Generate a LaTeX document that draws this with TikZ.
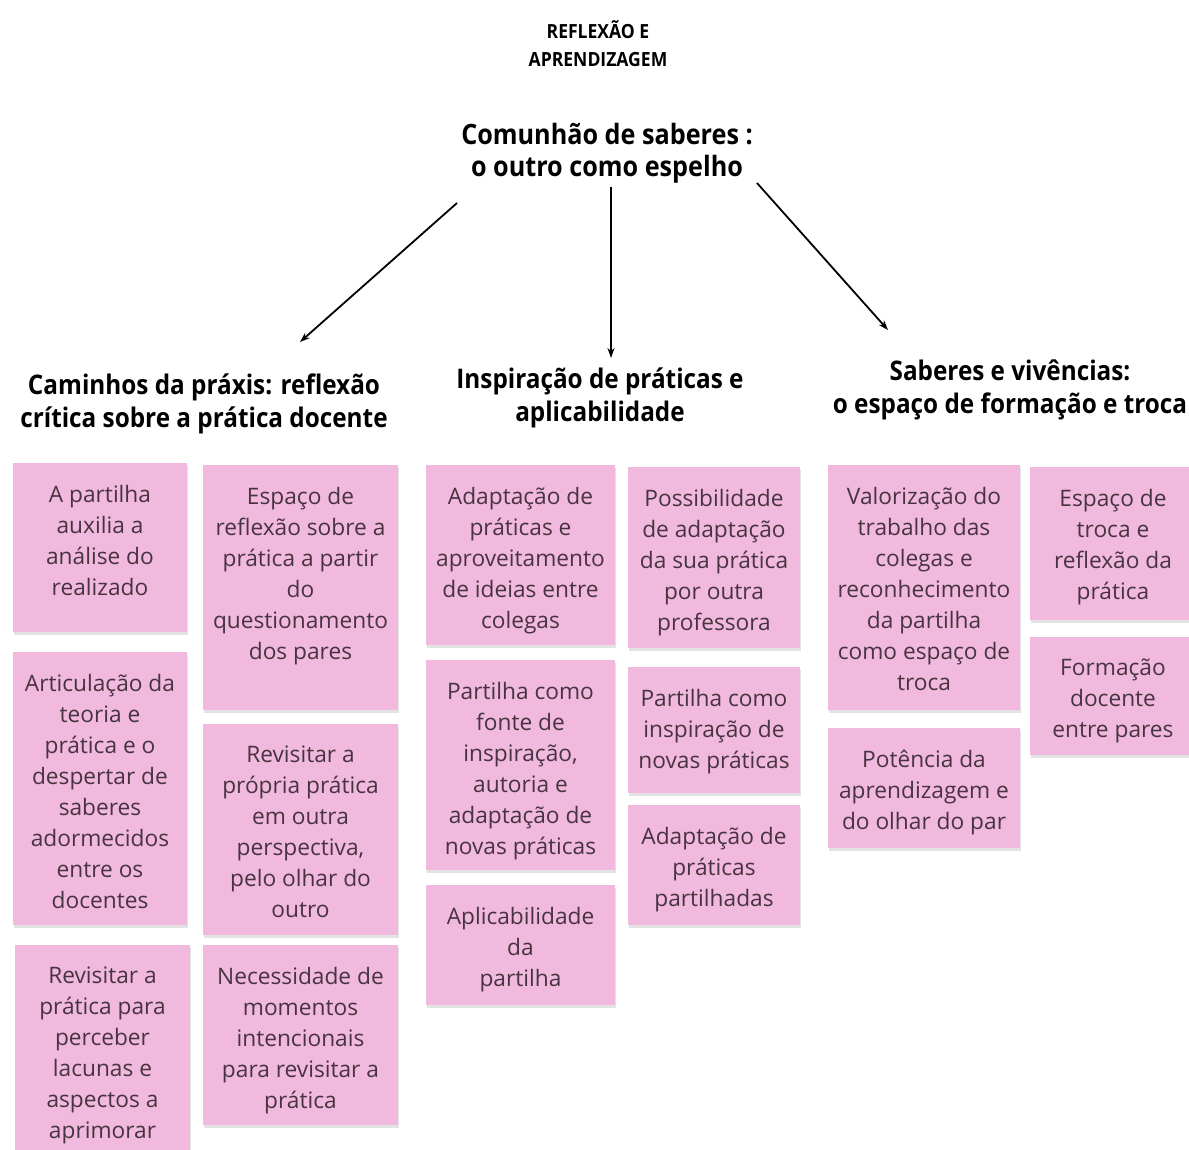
\documentclass[tikz,border=0pt]{standalone}
\usepackage{fontspec}
\setmainfont{Open Sans}
\newfontfamily\headfont[FakeStretch=0.9]{Open Sans}
\usetikzlibrary{arrows.meta,fit,shadows}

\definecolor{notepink}{RGB}{241,185,221}
\definecolor{notetextc}{RGB}{72,52,64}

\tikzset{
  note/.style={fill=notepink, draw=none, inner sep=0pt,
    drop shadow={shadow xshift=1pt, shadow yshift=-3pt, opacity=0.18, fill=black!60}},
  notetext/.style={text=notetextc, align=center, inner sep=0pt,
    font=\fontsize{22.7}{31}\selectfont},
  headtext/.style={align=center, inner sep=0pt,
    font=\headfont\bfseries\fontsize{27}{33}\selectfont},
  centertext/.style={align=center, inner sep=0pt,
    font=\headfont\bfseries\fontsize{28}{32}\selectfont},
  titletext/.style={align=center, inner sep=0pt,
    font=\headfont\bfseries\fontsize{19.5}{28}\selectfont},
  link/.style={line width=1.8pt, -{Stealth[length=10pt,width=7pt]}},
}

% one sticky note: name, top-left corner, bottom-right corner, text
\newcommand\stickynote[6]{%
  \node[note, fit={(#2,#3) (#4,#5)}] (#1) {};
  \node[notetext, anchor=north] (#1-txt) at ([yshift=-22pt]#1.north) {#6};
}

\begin{document}
\begin{tikzpicture}[x=1pt,y=-1pt]
  \fill[white] (0,0) rectangle (1189,1149);
  \useasboundingbox (0,0) rectangle (1189,1149);

  % titles
  \node[titletext] (title) at (598,44) {REFLEXÃO E\\APRENDIZAGEM};
  \node[centertext] (center) at (607,153) {Comunhão de saberes :\\o outro como espelho};

  \node[headtext] (h1) at (204,404) {Caminhos da práxis: reflexão\\crítica sobre a prática docente};
  \node[headtext] (h2) at (600,398) {Inspiração de práticas e\\aplicabilidade};
  \node[headtext] (h3) at (1010,390) {Saberes e vivências:\\o espaço de formação e troca};

  % arrows from the central theme to the three categories
  \coordinate (s1) at (457,203);
  \coordinate (e1) at (300,342);
  \coordinate (s2) at (611,187);
  \coordinate (e2) at (611,358);
  \coordinate (s3) at (757,183);
  \coordinate (e3) at (888,330);
  \draw[link] (s1) -- (e1);
  \draw[link] (s2) -- (e2);
  \draw[link] (s3) -- (e3);

  % column 1
  \stickynote{a1}{13}{463}{187}{632}{A partilha\\auxilia a\\análise do\\realizado}
  \stickynote{a2}{203}{465}{398}{710}{Espaço de\\reflexão sobre a\\prática a partir\\do\\questionamento\\dos pares}
  \stickynote{a3}{13}{652}{187}{925}{Articulação da\\teoria e\\prática e o\\despertar de\\saberes\\adormecidos\\entre os\\docentes}
  \stickynote{a4}{203}{724}{398}{935}{Revisitar a\\própria prática\\em outra\\perspectiva,\\pelo olhar do\\outro}
  \stickynote{a5}{15}{945}{190}{1165}{Revisitar a\\prática para\\perceber\\lacunas e\\aspectos a\\aprimorar}
  \stickynote{a6}{203}{945}{398}{1125}{Necessidade de\\momentos\\intencionais\\para revisitar a\\prática}

  % column 2
  \stickynote{b1}{426}{465}{615}{645}{Adaptação de\\práticas e\\aproveitamento\\de ideias entre\\colegas}
  \stickynote{b2}{628}{467}{800}{648}{Possibilidade\\de adaptação\\da sua prática\\por outra\\professora}
  \stickynote{b3}{426}{660}{615}{870}{Partilha como\\fonte de\\inspiração,\\autoria e\\adaptação de\\novas práticas}
  \stickynote{b4}{628}{667}{800}{793}{Partilha como\\inspiração de\\novas práticas}
  \stickynote{b5}{628}{805}{800}{925}{Adaptação de\\práticas\\partilhadas}
  \stickynote{b6}{426}{885}{615}{1005}{Aplicabilidade\\da\\partilha}

  % column 3
  \stickynote{c1}{828}{465}{1020}{710}{Valorização do\\trabalho das\\colegas e\\reconhecimento\\da partilha\\como espaço de\\troca}
  \stickynote{c2}{1030}{467}{1196}{620}{Espaço de\\troca e\\reflexão da\\prática}
  \stickynote{c3}{1030}{637}{1196}{755}{Formação\\docente\\entre pares}
  \stickynote{c4}{828}{728}{1020}{848}{Potência da\\aprendizagem e\\do olhar do par}
\end{tikzpicture}
\end{document}
